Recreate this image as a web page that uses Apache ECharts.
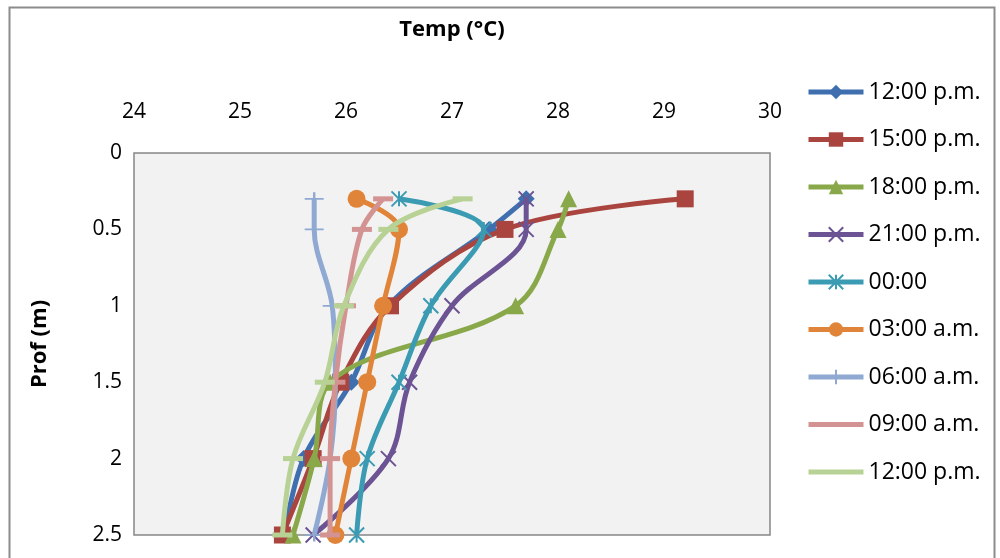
<!DOCTYPE html>
<html><head><meta charset="utf-8">
<script src="https://cdn.jsdelivr.net/npm/echarts@6/dist/echarts.min.js"></script>
<style>html,body{margin:0;padding:0;background:#fff}#c{width:1000px;height:558px}</style>
</head><body><div id="c"></div>
<script>
const depths = [0.3, 0.5, 1, 1.5, 2, 2.5];
const seriesNames = ['12:00 p.m.', '15:00 p.m.', '18:00 p.m.', '21:00 p.m.', '00:00', '03:00 a.m.', '06:00 a.m.', '09:00 a.m.', '12:00 p.m. '];
const t1200 = [27.7, 27.35, 26.4, 26.05, 25.6, 25.42];
const t1500 = [29.2, 27.5, 26.42, 25.95, 25.69, 25.4];
const t1800 = [28.1, 28.0, 27.6, 25.85, 25.7, 25.5];
const t2100 = [27.7, 27.7, 27.0, 26.6, 26.4, 25.69];
const t0000 = [26.5, 27.3, 26.8, 26.5, 26.2, 26.1];
const t0300 = [26.1, 26.5, 26.35, 26.2, 26.05, 25.9];
const t0600 = [25.7, 25.7, 25.87, 25.9, 25.85, 25.7];
const t0900 = [26.35, 26.15, 26.0, 25.9, 25.85, 25.85];
const t1200b = [27.1, 26.4, 25.98, 25.8, 25.5, 25.4];
const xTicks = [24, 25, 26, 27, 28, 29, 30];

const values = [t1200, t1500, t1800, t2100, t0000, t0300, t0600, t0900, t1200b];
const colors = ['#3f6fae', '#a9443f', '#88a84a', '#6c5393', '#3b9bb3', '#e0843a', '#8fa9d2', '#d39392', '#b8d195'];
const symbols = ['diamond', 'rect', 'triangle', 'path://M0,0L10,10M10,0L0,10', 'path://M5,0L5,10M0,0L10,10M10,0L0,10', 'circle', 'path://M0,5L14,5M7,1L7,9', 'rect', 'rect'];
const sizes = [17, 17, 17, 15, 15, 18, [19, 13], [20, 5], [20, 5]];
const strokeSym = [false, false, false, true, true, false, true, false, false];
const noLegendSym = [false, false, false, false, false, false, false, true, true];

const chart = echarts.init(document.getElementById('c'));
const FONT = 'Open Sans';
chart.setOption({
  animation: false,
  backgroundColor: '#fff',
  graphic: [{type: 'rect', shape: {x: 9.5, y: 7.5, width: 985, height: 560}, style: {fill: 'none', stroke: '#8c8c8c', lineWidth: 2}}],
  grid: {left: 134, top: 153, right: 230, bottom: 23, show: true, backgroundColor: '#f2f2f2', borderColor: '#868686', borderWidth: 1.5},
  xAxis: {
    type: 'value', position: 'top', min: 24, max: 30, interval: 1,
    name: 'Temp (°C)', nameLocation: 'middle', nameGap: 112,
    nameTextStyle: {fontFamily: FONT, fontWeight: 'bold', fontSize: 22, color: '#000'},
    axisLine: {show: false}, axisTick: {show: false}, splitLine: {show: false},
    axisLabel: {fontFamily: FONT, fontSize: 21, color: '#000', margin: 30,
      formatter: v => xTicks.includes(v) ? String(v) : ''}
  },
  yAxis: {
    type: 'value', inverse: true, min: 0, max: 2.5, interval: 0.5,
    name: 'Prof (m)', nameLocation: 'middle', nameGap: 83, nameRotate: 90,
    nameTextStyle: {fontFamily: FONT, fontWeight: 'bold', fontSize: 22, color: '#000'},
    axisLine: {show: false}, axisTick: {show: false}, splitLine: {show: false},
    axisLabel: {fontFamily: FONT, fontSize: 21, color: '#000', margin: 12}
  },
  legend: {
    orient: 'vertical', left: 801, top: 75, itemWidth: 55, itemHeight: 18, itemGap: 23.5,
    textStyle: {fontFamily: FONT, fontSize: 23, color: '#000', lineHeight: 24},
    lineStyle: {width: 5},
    data: seriesNames.map((n, i) => noLegendSym[i] ? {name: n, itemStyle: {opacity: 0}} : {name: n})
  },
  series: seriesNames.map((n, i) => ({
    name: n, type: 'line', smooth: 0.35,
    data: values[i].map((t, j) => [t, depths[j]]),
    symbol: symbols[i], symbolSize: sizes[i], showSymbol: true,
    lineStyle: {color: colors[i], width: 5},
    itemStyle: {color: colors[i], borderColor: colors[i], borderWidth: strokeSym[i] ? 2 : 0},
    z: 2 + i
  }))
});
</script></body></html>
